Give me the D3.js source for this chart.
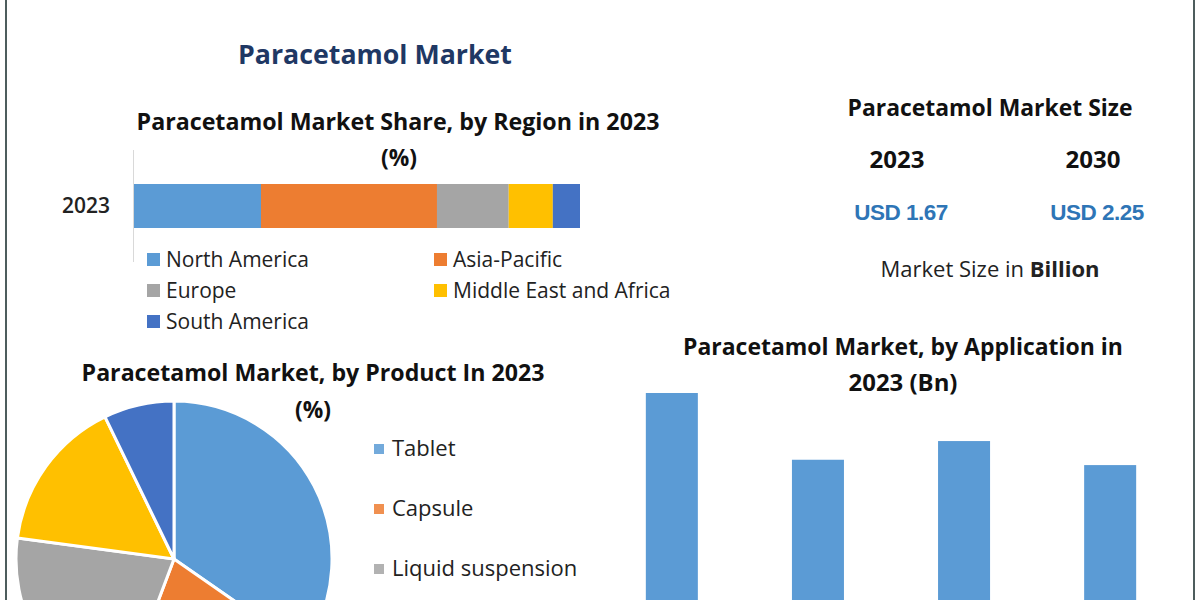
<!DOCTYPE html>
<html><head><meta charset="utf-8">
<script src="https://cdn.jsdelivr.net/npm/d3@7"></script>
<style>html,body{margin:0;padding:0;background:#fff;}svg{display:block;}</style>
</head><body>
<svg id="c" width="1200" height="600"></svg>
<script>
// ---- data ----
const regionCategories = ["North America","Asia-Pacific","Europe","Middle East and Africa","South America"];
const regionShare2023 = [28.5, 39.5, 16.1, 9.9, 6.1];
const regionYear = ["2023"];
const productCategories = ["Tablet","Capsule","Liquid suspension","Others","Powder"];
const productShare2023 = [34.7, 21.1, 21.4, 15.7, 7.2];
const applicationCategories = ["Pain Relief","Fever","Cold and Flu","Others"];
const applicationValues2023 = [0.50, 0.375, 0.41, 0.365];
const marketSizeYears = ["2023","2030"];
const marketSizeValues = ["USD 1.67","USD 2.25"];
const palette = ["#5b9bd5","#ed7d31","#a5a5a5","#ffc000","#4472c4"];

const svg = d3.select("#c");
const TF = "'Open Sans', sans-serif";
const NF = "'Open Sans', sans-serif";

// frame lines
svg.append("rect").attr("x",5).attr("y",0).attr("width",2).attr("height",600).attr("fill","#4d5d5d");
svg.append("rect").attr("x",1193).attr("y",0).attr("width",2).attr("height",600).attr("fill","#4d5d5d");

function txt(x,y,s,size,weight,color,font,anchor){
  return svg.append("text").attr("x",x).attr("y",y).attr("text-anchor",anchor||"middle")
    .attr("font-family",font||TF).attr("font-size",size).attr("font-weight",weight||"normal")
    .attr("fill",color||"#111").text(s);
}
// adjust font size so the text spans the width it has in the reference
function fit(sel,w){
  const n = sel.node(); const cur = n.getComputedTextLength();
  const fs = parseFloat(sel.attr("font-size"));
  if(cur>0) sel.attr("font-size",(fs*w/cur).toFixed(2));
  return sel;
}

// main title
fit(txt(375,64,"Paracetamol Market",26,"bold","#1f3864"),274);

// ---- stacked bar by region ----
fit(txt(398,130,"Paracetamol Market Share, by Region in 2023",21,"bold"),523);
fit(txt(399,166,"(%)",21,"bold"),36);
const total = d3.sum(regionShare2023);
const xs = d3.scaleLinear().domain([0,total]).range([134,580]);
const ys = d3.scaleBand().domain(regionYear).range([184,228]).padding(0);
svg.append("line").attr("x1",133.5).attr("x2",133.5).attr("y1",150).attr("y2",262).attr("stroke","#d9d9d9");
let cum = 0;
const stack = regionShare2023.map((v,i)=>{const o={i,v,x0:cum,x1:cum+v};cum+=v;return o;});
svg.selectAll(".seg").data(stack).enter().append("rect")
  .attr("x",d=>xs(d.x0)).attr("width",d=>xs(d.x1)-xs(d.x0))
  .attr("y",ys("2023")).attr("height",ys.bandwidth()).attr("fill",d=>palette[d.i]);
fit(txt(86,213,"2023",20,"600","#222",NF),48);
// legend
const legPos = [[147,260],[434,260],[147,291],[434,291],[147,322]];
regionCategories.forEach((c,i)=>{
  const [lx,ly]=legPos[i];
  svg.append("rect").attr("x",lx).attr("y",ly-7).attr("width",13).attr("height",13).attr("fill",palette[i]);
  txt(lx+19,ly+7,c,21,"normal","#222",NF,"start");
});

// ---- market size ----
fit(txt(990,116,"Paracetamol Market Size",21,"bold"),285);
const msx = [897,1093];
marketSizeYears.forEach((y,i)=>{
  fit(txt(msx[i],168,y,22,"bold"),55);
  fit(txt(msx[i]+4,220,marketSizeValues[i],20,"bold","#2e75b6","'Liberation Sans Narrow', 'Liberation Sans', sans-serif").attr("letter-spacing","-0.5"),93);
});
const ms = txt(990,277,"",20,"normal","#222");
ms.append("tspan").text("Market Size in ");
ms.append("tspan").attr("font-weight","bold").text("Billion");
fit(ms,219);

// ---- pie by product ----
fit(txt(313,381,"Paracetamol Market, by Product In 2023",21,"bold"),463);
fit(txt(313,418,"(%)",21,"bold"),36);
const pie = d3.pie().sort(null).value(d=>d)(productShare2023);
const arc = d3.arc().innerRadius(0).outerRadius(158);
svg.append("g").attr("transform","translate(174,559)")
  .selectAll("path").data(pie).enter().append("path")
  .attr("d",arc).attr("fill",(d,i)=>palette[i]).attr("stroke","#fff").attr("stroke-width",3);
// only the first three legend entries fall inside the picture
productCategories.slice(0,3).forEach((c,i)=>{
  const ly = 449 + i*60;
  svg.append("rect").attr("x",374).attr("y",ly-5).attr("width",10).attr("height",10).attr("fill",palette[i]).attr("opacity",0.85);
  txt(392,ly+7,c,22,"normal","#222",NF,"start");
});

// ---- bars by application ----
fit(txt(903,355,"Paracetamol Market, by Application in",21,"bold"),440);
fit(txt(903,391,"2023 (Bn)",21,"bold"),109);
const xb = d3.scaleBand().domain(applicationCategories).range([602,1180]).paddingInner(0.644).paddingOuter(0.3);
const yb = d3.scaleLinear().domain([0,0.5]).range([660,393]);
svg.selectAll(".bar").data(applicationValues2023).enter().append("rect")
  .attr("x",(d,i)=>xb(applicationCategories[i])).attr("width",xb.bandwidth())
  .attr("y",d=>yb(d)).attr("height",d=>yb(0)-yb(d)).attr("fill","#5b9bd5");
</script>
</body></html>
